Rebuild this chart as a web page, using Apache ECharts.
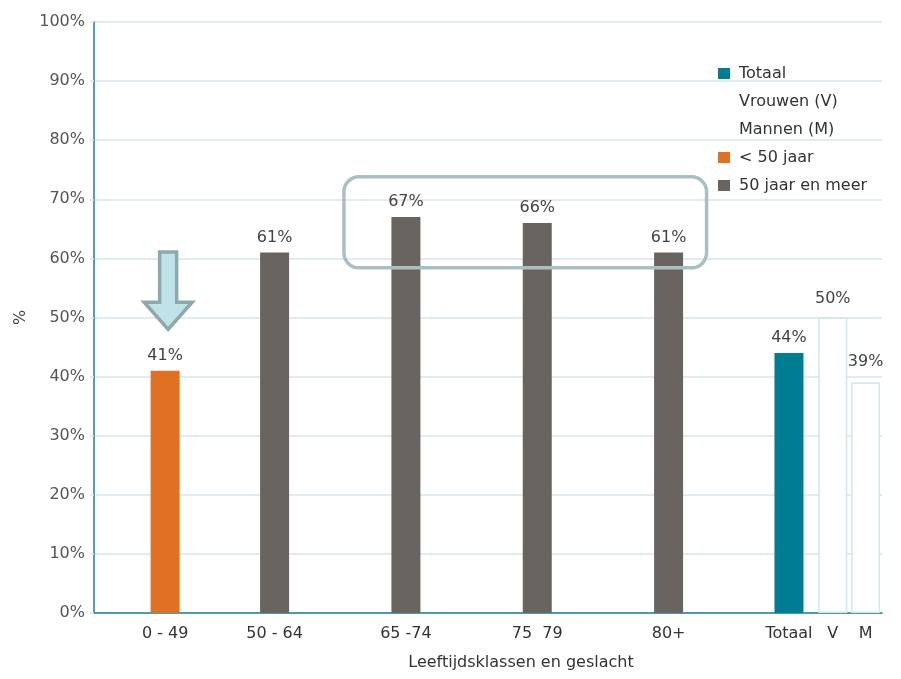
<!DOCTYPE html>
<html>
<head>
<meta charset="utf-8">
<script src="https://cdn.jsdelivr.net/npm/echarts@6/dist/echarts.min.js"></script>
<style>
  html, body { margin: 0; padding: 0; background: #fff; }
  #chart { width: 901px; height: 679px; }
</style>
</head>
<body>
<div id="chart"></div>
<script>
// Share per age class and sex (percent)
const categories = ['0 - 49', '50 - 64', '65 -74', '75  79', '80+', 'Totaal', 'V', 'M'];
const values     = [41, 61, 67, 66, 61, 44, 50, 39];
const groups     = ['< 50 jaar', '50 jaar en meer', '50 jaar en meer', '50 jaar en meer',
                    '50 jaar en meer', 'Totaal', 'Vrouwen (V)', 'Mannen (M)'];
const legendNames = ['Totaal', 'Vrouwen (V)', 'Mannen (M)', '< 50 jaar', '50 jaar en meer'];
const yTicks = [0, 10, 20, 30, 40, 50, 60, 70, 80, 90, 100];

// Layout: the bars sit on a fine-grained category axis so the gaps between them can differ
const SLOT_COUNT = 72;
const slots = [6, 16, 28, 40, 52, 63, 67, 70];

const FONT = 'DejaVu Sans';
const colors = {
  'Totaal': '#007c93',
  'Vrouwen (V)': '#ffffff',
  'Mannen (M)': '#ffffff',
  '< 50 jaar': '#e07122',
  '50 jaar en meer': '#6a6461'
};

const slotKeys = Array.from({ length: SLOT_COUNT }, (_, i) => 's' + i);
const slotLabel = {};
slots.forEach((s, i) => { slotLabel['s' + s] = categories[i]; });

const series = legendNames.map(name => {
  const data = new Array(SLOT_COUNT).fill(null);
  groups.forEach((g, i) => { if (g === name) data[slots[i]] = values[i]; });
  const hollow = name === 'Vrouwen (V)' || name === 'Mannen (M)';
  return {
    name,
    type: 'bar',
    data,
    barWidth: 29,
    barGap: '-100%',
    itemStyle: hollow
      ? { color: '#ffffff', borderColor: '#d6e4eb', borderWidth: 1.5 }
      : { color: colors[name] },
    label: {
      show: true,
      position: 'top',
      distance: name === 'Vrouwen (V)' ? 11 : (name === 'Mannen (M)' ? 13 : 7),
      formatter: p => p.value + '%',
      fontFamily: FONT,
      fontSize: 16,
      color: '#444'
    },
    emphasis: { disabled: true }
  };
});

const chart = echarts.init(document.getElementById('chart'), null, { renderer: 'canvas' });

chart.setOption({
  animation: false,
  backgroundColor: '#fff',
  grid: { left: 94, right: 19, top: 22, bottom: 66, containLabel: false },
  legend: {
    orient: 'vertical',
    left: 712,
    top: 59,
    icon: 'rect',
    itemWidth: 12,
    itemHeight: 11,
    itemGap: 9,
    selectedMode: false,
    textStyle: { fontFamily: FONT, fontSize: 16, color: '#333', padding: [0, 0, 0, 4], lineHeight: 19 },
    data: legendNames.map(n => (n === 'Vrouwen (V)' || n === 'Mannen (M)')
      ? { name: n, itemStyle: { opacity: 0 } }
      : { name: n })
  },
  xAxis: {
    type: 'category',
    data: slotKeys,
    name: 'Leeftijdsklassen en geslacht',
    nameLocation: 'middle',
    nameGap: 42,
    nameTextStyle: { fontFamily: FONT, fontSize: 16, color: '#333', padding: [0, 0, 0, 66] },
    axisLine: { lineStyle: { color: '#1b8196', width: 1.5 } },
    axisTick: { show: false },
    axisLabel: {
      interval: 0,
      margin: 13,
      fontFamily: FONT,
      fontSize: 16,
      color: '#333',
      formatter: v => slotLabel[v] || ''
    },
    splitLine: { show: false }
  },
  yAxis: {
    type: 'value',
    min: yTicks[0],
    max: yTicks[yTicks.length - 1],
    interval: yTicks[1] - yTicks[0],
    name: '%',
    nameLocation: 'middle',
    nameRotate: 90,
    nameGap: 52,
    nameTextStyle: { fontFamily: FONT, fontSize: 16, color: '#444' },
    axisLine: { show: true, lineStyle: { color: '#1b8196', width: 1.5 } },
    axisTick: { show: true, length: 4, lineStyle: { color: '#d8e4ea', width: 1.5 } },
    axisLabel: {
      margin: 9,
      fontFamily: FONT,
      fontSize: 16,
      color: '#555',
      formatter: v => v + '%'
    },
    splitLine: { lineStyle: { color: '#d8e4ea', width: 1.5 } }
  },
  series
});

// Annotations: an arrow pointing at the youngest class and a frame around the oldest classes
const px = (i, v) => chart.convertToPixel({ xAxisIndex: 0, yAxisIndex: 0 }, ['s' + slots[i], v]);
const arrowTop = px(0, 61.1), arrowHead = px(0, 52.6), arrowTip = px(0, 48.0);
const cx = arrowTop[0] + 3;
const frameTop = px(2, 73.8), frameBottom = px(4, 58.4);
const frameLeft = frameTop[0] - 62, frameRight = frameBottom[0] + 38;

chart.setOption({
  graphic: [
    {
      type: 'polygon',
      z: 100,
      shape: {
        points: [
          [cx - 8.5, arrowTop[1]], [cx + 8.5, arrowTop[1]], [cx + 8.5, arrowHead[1]],
          [cx + 24, arrowHead[1]], [cx, arrowTip[1]], [cx - 24, arrowHead[1]],
          [cx - 8.5, arrowHead[1]]
        ]
      },
      style: { fill: '#bfe3e8', stroke: '#8ea9aa', lineWidth: 3.5, lineJoin: 'miter' }
    },
    {
      type: 'rect',
      z: 100,
      shape: {
        x: frameLeft, y: frameTop[1],
        width: frameRight - frameLeft, height: frameBottom[1] - frameTop[1],
        r: 15
      },
      style: { fill: 'none', stroke: '#a9bfc1', lineWidth: 3.5 }
    }
  ]
});
</script>
</body>
</html>
